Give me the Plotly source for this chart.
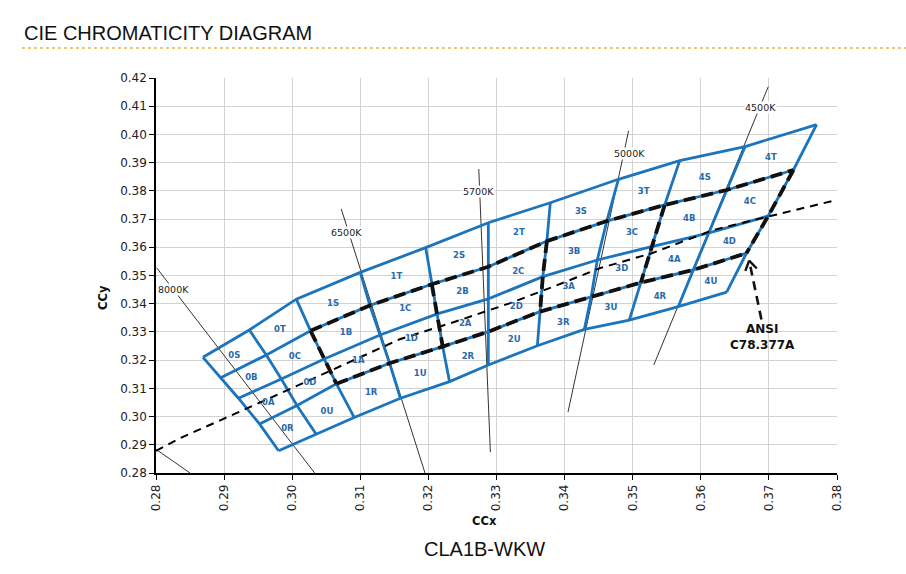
import plotly.graph_objects as go
import math

# ---------------- data (CIE x, y) ----------------
# 11 bin boundary lines (left -> right) x 5 levels (top, S/B, B/A, A/R, bottom)
grid_x = [
    [0.2869, 0.2895, 0.2921, 0.2952, 0.2980],
    [0.2937, 0.2962, 0.2984, 0.3007, 0.3035],
    [0.3006, 0.3027, 0.3047, 0.3065, 0.3091],
    [0.3100, 0.3114, 0.3129, 0.3143, 0.3159],
    [0.3196, 0.3205, 0.3213, 0.3221, 0.3231],
    [0.3288, 0.3288, 0.3288, 0.3288, 0.3288],
    [0.3379, 0.3374, 0.3368, 0.3364, 0.3360],
    [0.3479, 0.3462, 0.3448, 0.3439, 0.3429],
    [0.3569, 0.3547, 0.3528, 0.3512, 0.3495],
    [0.3665, 0.3638, 0.3611, 0.3589, 0.3567],
    [0.3770, 0.3736, 0.3699, 0.3667, 0.3638],
]
grid_y = [
    [0.3210, 0.3138, 0.3065, 0.2974, 0.2879],
    [0.3307, 0.3218, 0.3133, 0.3039, 0.2938],
    [0.3416, 0.3304, 0.3204, 0.3116, 0.2997],
    [0.3511, 0.3394, 0.3289, 0.3189, 0.3065],
    [0.3599, 0.3469, 0.3364, 0.3248, 0.3124],
    [0.3687, 0.3531, 0.3417, 0.3301, 0.3183],
    [0.3758, 0.3622, 0.3496, 0.3372, 0.3251],
    [0.3841, 0.3693, 0.3555, 0.3425, 0.3309],
    [0.3907, 0.3750, 0.3602, 0.3475, 0.3342],
    [0.3957, 0.3803, 0.3650, 0.3520, 0.3390],
    [0.4035, 0.3874, 0.3711, 0.3579, 0.3441],
]

bin_names = ["0S", "0T", "0B", "0C", "0A", "0D", "0R", "0U",
             "1S", "1T", "1B", "1C", "1A", "1D", "1R", "1U",
             "2S", "2T", "2B", "2C", "2A", "2D", "2R", "2U",
             "3S", "3T", "3B", "3C", "3A", "3D", "3R", "3U",
             "4S", "4T", "4B", "4C", "4A", "4D", "4R", "4U"]
bin_label_x = [0.2915, 0.2982, 0.2940, 0.3004, 0.2965, 0.3026, 0.2993, 0.3051,
               0.3060, 0.3153, 0.3079, 0.3166, 0.3097, 0.3175, 0.3116, 0.3188,
               0.3245, 0.3333, 0.3250, 0.3332, 0.3254, 0.3329, 0.3258, 0.3326,
               0.3424, 0.3516, 0.3414, 0.3499, 0.3406, 0.3484, 0.3398, 0.3468,
               0.3606, 0.3703, 0.3583, 0.3672, 0.3561, 0.3642, 0.3540, 0.3615]
bin_label_y = [0.3215, 0.3309, 0.3136, 0.3212, 0.3049, 0.3120, 0.2955, 0.3017,
               0.3399, 0.3494, 0.3295, 0.3380, 0.3197, 0.3274, 0.3085, 0.3153,
               0.3569, 0.3650, 0.3441, 0.3514, 0.3328, 0.3390, 0.3210, 0.3271,
               0.3724, 0.3798, 0.3584, 0.3652, 0.3458, 0.3522, 0.3333, 0.3387,
               0.3847, 0.3916, 0.3699, 0.3760, 0.3555, 0.3618, 0.3425, 0.3478]

# Planckian (black body) locus
planck_x = [0.2800, 0.2835, 0.2967, 0.3158, 0.3239, 0.3320, 0.3383,
            0.3452, 0.3528, 0.3618, 0.3699, 0.3800]
planck_y = [0.2878, 0.2923, 0.3065, 0.3274, 0.3336, 0.3402, 0.3460,
            0.3526, 0.3579, 0.3661, 0.3709, 0.3768]

# CCT isotherm lines
cct_names = ["8000K", "6500K", "5700K", "5000K", "4500K", ""]
cct_x0 = [0.2801, 0.3072, 0.3274, 0.3494, 0.3699, 0.2800]
cct_y0 = [0.3527, 0.3736, 0.3877, 0.4013, 0.4169, 0.2884]
cct_x1 = [0.3033, 0.3195, 0.3291, 0.3405, 0.3531, 0.2850]
cct_y1 = [0.2800, 0.2800, 0.2874, 0.3016, 0.3183, 0.2800]
cct_label_x = [0.2825, 0.3080, 0.3274, 0.3495, 0.3687, None]
cct_label_y = [0.3449, 0.3654, 0.3796, 0.3934, 0.4096, None]

# ANSI C78.377A annotation (text position, arrow tail, arrow tip)
ansi_text = "ANSI<br>C78.377A"
ansi_text_xy = (0.3690, 0.3283)
ansi_arrow_x = [0.3689, 0.3671]
ansi_arrow_y = [0.3344, 0.3553]

x_ticks = [0.28, 0.29, 0.30, 0.31, 0.32, 0.33, 0.34, 0.35, 0.36, 0.37, 0.38]
y_ticks = [0.28, 0.29, 0.30, 0.31, 0.32, 0.33, 0.34, 0.35, 0.36, 0.37, 0.38,
           0.39, 0.40, 0.41, 0.42]

# ---------------- figure ----------------
W, H = 906, 574
ML, MR, MT, MB = 156, 69, 78, 101
PW, PH = W - ML - MR, H - MT - MB
XR = [0.28, 0.38]
YR = [0.28, 0.42]
sx = PW / (XR[1] - XR[0])
sy = PH / (YR[1] - YR[0])

BLUE = "#1c74bc"
LABEL_BLUE = "#2a6aab"


def join(lines):
    X, Y = [], []
    for xs, ys in lines:
        X += list(xs) + [None]
        Y += list(ys) + [None]
    return X, Y


fig = go.Figure()

# isotherms (thin black)
iso = [([a, b], [c, d]) for a, c, b, d in zip(cct_x0, cct_y0, cct_x1, cct_y1)]
X, Y = join(iso)
fig.add_trace(go.Scatter(x=X, y=Y, mode="lines",
                         line=dict(color="#333333", width=1), hoverinfo="skip"))

# blue bin grid
vert = [(grid_x[i], grid_y[i]) for i in range(len(grid_x))]
horiz = [([grid_x[i][r] for i in range(len(grid_x))],
          [grid_y[i][r] for i in range(len(grid_x))]) for r in range(5)]
X, Y = join(vert + horiz)
fig.add_trace(go.Scatter(x=X, y=Y, mode="lines",
                         line=dict(color=BLUE, width=2.8), hoverinfo="skip"))

# Planckian locus
fig.add_trace(go.Scatter(x=planck_x, y=planck_y, mode="lines",
                         line=dict(color="black", width=2, dash="8px,6px"),
                         hoverinfo="skip"))

# ANSI quadrangles (black dashed)
ansi = [([grid_x[i][1] for i in range(2, 11)], [grid_y[i][1] for i in range(2, 11)]),
        ([grid_x[i][3] for i in range(2, 11)], [grid_y[i][3] for i in range(2, 11)])]
for i in (2, 4, 6, 8, 10):
    ansi.append((grid_x[i][1:4], grid_y[i][1:4]))
X, Y = join(ansi)
fig.add_trace(go.Scatter(x=X, y=Y, mode="lines",
                         line=dict(color="#111111", width=3.8, dash="12px,6px"),
                         hoverinfo="skip"))

# ANSI arrow (dashed shaft + open chevron head)
fig.add_trace(go.Scatter(x=ansi_arrow_x, y=ansi_arrow_y, mode="lines",
                         line=dict(color="#111111", width=2.6, dash="9px,6px"),
                         hoverinfo="skip"))
tx, ty = ansi_arrow_x[1], ansi_arrow_y[1]
dx = (ansi_arrow_x[0] - tx) * sx
dy = (ansi_arrow_y[0] - ty) * sy
L = math.hypot(dx, dy)
ux, uy = dx / L, dy / L
hx, hy = [], []
for ang in (math.radians(32), math.radians(-32)):
    rx = ux * math.cos(ang) - uy * math.sin(ang)
    ry = ux * math.sin(ang) + uy * math.cos(ang)
    hx += [tx + rx * 11 / sx, tx, None]
    hy += [ty + ry * 11 / sy, ty, None]
fig.add_trace(go.Scatter(x=hx, y=hy, mode="lines",
                         line=dict(color="#111111", width=2.4), hoverinfo="skip"))

# bin labels
fig.add_trace(go.Scatter(x=bin_label_x, y=bin_label_y, mode="text", text=bin_names,
                         textfont=dict(family="DejaVu Sans", size=8.5, color=LABEL_BLUE,
                                       weight="bold"),
                         hoverinfo="skip"))

annotations = []
for name, lx, ly in zip(cct_names, cct_label_x, cct_label_y):
    if lx is None:
        continue
    annotations.append(dict(x=lx, y=ly, xref="x", yref="y", text=name, showarrow=False,
                            font=dict(family="DejaVu Sans", size=9.5, color="#222222"),
                            bgcolor="white", borderpad=0))
annotations.append(dict(x=ansi_text_xy[0], y=ansi_text_xy[1], xref="x", yref="y",
                        text="<b>" + ansi_text + "</b>", showarrow=False,
                        font=dict(family="DejaVu Sans", size=12, color="#111111")))


def px(xp):
    return (xp - ML) / PW


def py(yp):
    return (H - MB - yp) / PH


annotations += [
    dict(x=px(22), y=py(33), xref="paper", yref="paper", xanchor="left", yanchor="middle",
         text="CIE CHROMATICITY DIAGRAM", showarrow=False,
         font=dict(family="Liberation Sans", size=20, color="#111111")),
    dict(x=px(484), y=py(549), xref="paper", yref="paper", xanchor="center",
         yanchor="middle", text="CLA1B-WKW", showarrow=False,
         font=dict(family="Liberation Sans", size=20, color="#111111")),
    dict(x=px(484), y=py(521), xref="paper", yref="paper", xanchor="center",
         yanchor="middle", text="<b>CCx</b>", showarrow=False,
         font=dict(family="DejaVu Sans", size=11.5, color="#111111")),
    dict(x=px(103), y=py(298), xref="paper", yref="paper", xanchor="center",
         yanchor="middle", text="<b>CCy</b>", showarrow=False, textangle=-90,
         font=dict(family="DejaVu Sans", size=11.5, color="#111111")),
]

shapes = [dict(type="line", xref="paper", yref="paper", x0=px(22), x1=px(906),
               y0=py(48), y1=py(48), line=dict(color="#e3b54c", width=1.5, dash="dot"))]

axis_common = dict(showgrid=True, gridcolor="#d2d2d2", gridwidth=1, zeroline=False,
                   showline=True, linecolor="black", linewidth=1.5, ticks="outside",
                   ticklen=5, tickcolor="black", tickwidth=1, tickformat=".2f",
                   tickfont=dict(family="DejaVu Sans", size=12, color="#222222"))

fig.update_layout(
    width=W, height=H, margin=dict(l=ML, r=MR, t=MT, b=MB),
    paper_bgcolor="white", plot_bgcolor="white", showlegend=False,
    xaxis=dict(range=XR, tickvals=x_ticks, tickangle=-90, **axis_common),
    yaxis=dict(range=YR, tickvals=y_ticks, **axis_common),
    annotations=annotations, shapes=shapes,
)

fig.write_html("out.html", config={"displayModeBar": False})
